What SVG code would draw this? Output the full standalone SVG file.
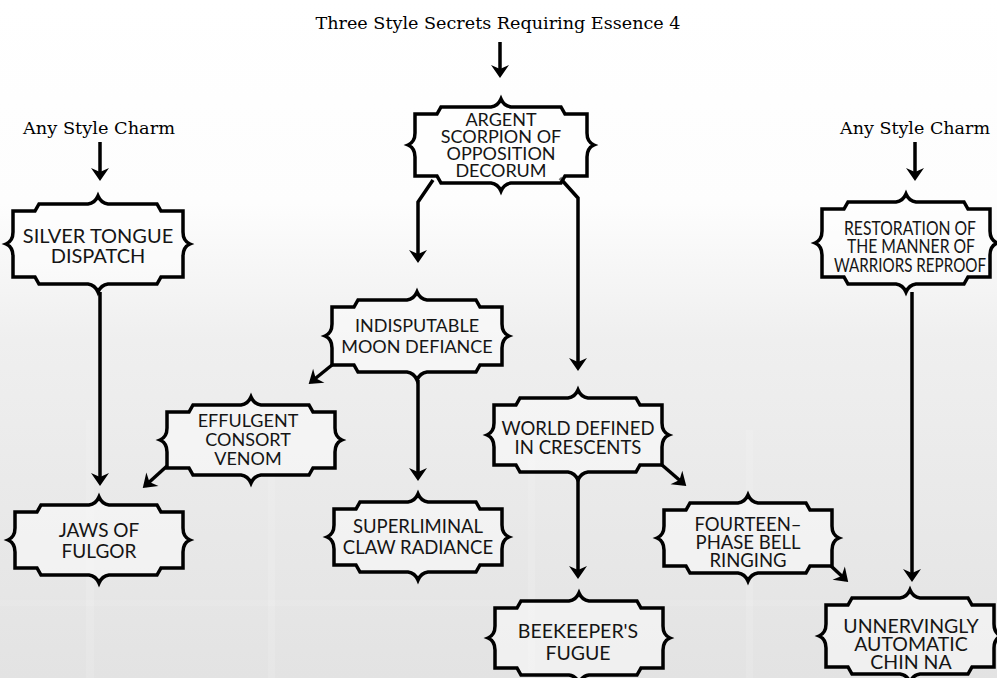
<svg xmlns="http://www.w3.org/2000/svg" xmlns:xlink="http://www.w3.org/1999/xlink" width="997" height="678" viewBox="0 0 997 678">
<defs>
<linearGradient id="bg" x1="0" y1="0" x2="0" y2="1">
<stop offset="0" stop-color="#ffffff"/>
<stop offset="0.3" stop-color="#fdfdfd"/>
<stop offset="0.5" stop-color="#efefef"/>
<stop offset="1" stop-color="#e3e3e3"/>
</linearGradient>
<marker id="ah" markerUnits="userSpaceOnUse" markerWidth="30" markerHeight="30" viewBox="-15 -15 30 30" refX="0" refY="0" orient="auto">
<path d="M3,0 L-10,-9 L-6,0 L-10,9 Z" fill="#000"/>
</marker>
<path id="sA" d="M-86,-31 L-64,-31 L-60,-38 L-10,-38 Q-3,-39 0,-46 Q3,-39 10,-38 L60,-38 L64,-31 L86,-31 L86,-12 Q86,-3 93,0 Q86,3 86,12 L86,31 L64,31 L60,38 L10,38 Q3,39 0,46 Q-3,39 -10,38 L-60,38 L-64,31 L-86,31 L-86,12 Q-86,3 -93,0 Q-86,-3 -86,-12 Z"/>
<path id="sS" d="M-85,-33 L-63,-33 L-59,-40 L-10,-40 Q-3,-41 0,-48 Q3,-41 10,-40 L59,-40 L63,-33 L85,-33 L85,-12 Q85,-3 92,0 Q85,3 85,12 L85,33 L63,33 L59,40 L10,40 Q3,41 0,48 Q-3,41 -10,40 L-59,40 L-63,33 L-85,33 L-85,12 Q-85,3 -92,0 Q-85,-3 -85,-12 Z"/>
<path id="sR" d="M-84,-34 L-62,-34 L-58,-41 L-10,-41 Q-3,-42 0,-49 Q3,-42 10,-41 L58,-41 L62,-34 L84,-34 L84,-12 Q84,-3 91,0 Q84,3 84,12 L84,34 L62,34 L58,41 L10,41 Q3,42 0,49 Q-3,42 -10,41 L-58,41 L-62,34 L-84,34 L-84,12 Q-84,3 -91,0 Q-84,-3 -84,-12 Z"/>
<path id="sI" d="M-85,-29 L-63,-29 L-59,-36 L-10,-36 Q-3,-37 0,-44 Q3,-37 10,-36 L59,-36 L63,-29 L85,-29 L85,-12 Q85,-3 92,0 Q85,3 85,12 L85,29 L63,29 L59,36 L10,36 Q3,37 0,44 Q-3,37 -10,36 L-59,36 L-63,29 L-85,29 L-85,12 Q-85,3 -92,0 Q-85,-3 -85,-12 Z"/>
<path id="s28" d="M-84,-28 L-62,-28 L-58,-35 L-10,-35 Q-3,-36 0,-43 Q3,-36 10,-35 L58,-35 L62,-28 L84,-28 L84,-12 Q84,-3 91,0 Q84,3 84,12 L84,28 L62,28 L58,35 L10,35 Q3,36 0,43 Q-3,36 -10,35 L-58,35 L-62,28 L-84,28 L-84,12 Q-84,3 -91,0 Q-84,-3 -84,-12 Z"/>
<path id="s30" d="M-84,-30 L-62,-30 L-58,-37 L-10,-37 Q-3,-38 0,-45 Q3,-38 10,-37 L58,-37 L62,-30 L84,-30 L84,-12 Q84,-3 91,0 Q84,3 84,12 L84,30 L62,30 L58,37 L10,37 Q3,38 0,45 Q-3,38 -10,37 L-58,37 L-62,30 L-84,30 L-84,12 Q-84,3 -91,0 Q-84,-3 -84,-12 Z"/>
<path id="s31" d="M-84,-31 L-62,-31 L-58,-38 L-10,-38 Q-3,-39 0,-46 Q3,-39 10,-38 L58,-38 L62,-31 L84,-31 L84,-12 Q84,-3 91,0 Q84,3 84,12 L84,31 L62,31 L58,38 L10,38 Q3,39 0,46 Q-3,39 -10,38 L-58,38 L-62,31 L-84,31 L-84,12 Q-84,3 -91,0 Q-84,-3 -84,-12 Z"/>
</defs>
<style>
.frame{fill:#ffffff;fill-opacity:0.45;stroke:#000;stroke-width:3.5;stroke-linejoin:miter}
.nt{font-family:Lato,"Open Sans",sans-serif;font-size:19px;fill:#151515;text-anchor:middle}
.lbl{font-family:"DejaVu Serif","Liberation Serif",serif;font-size:17px;fill:#000;text-anchor:middle}
.con{fill:none;stroke:#000;stroke-width:3.5;marker-end:url(#ah)}
.tex{fill:#ffffff;opacity:0.12}
</style>
<rect x="0" y="0" width="997" height="678" fill="url(#bg)"/>
<g id="texture">
<rect class="tex" x="86" y="420" width="8" height="258"/>
<rect class="tex" x="268" y="430" width="7" height="248"/>
<rect class="tex" x="528" y="440" width="7" height="238"/>
<rect class="tex" x="746" y="430" width="7" height="248"/>
<rect x="0" y="600" width="997" height="6" fill="#ffffff" opacity="0.1"/>
</g>
<g id="labels">
<text class="lbl" x="498" y="29" textLength="365" lengthAdjust="spacingAndGlyphs">Three Style Secrets Requiring Essence 4</text>
<text class="lbl" x="99" y="134" textLength="152" lengthAdjust="spacingAndGlyphs">Any Style Charm</text>
<text class="lbl" x="915" y="134" textLength="150" lengthAdjust="spacingAndGlyphs">Any Style Charm</text>
</g>
<g id="connectors">
<path class="con" d="M500,42 L500,75"/>
<path class="con" d="M100,142 L100,178"/>
<path class="con" d="M915,142 L915,178"/>
<path class="con" d="M433,180 L418,202 L418,260"/>
<path class="con" d="M560,178 L578,198 L578,368"/>
<path class="con" d="M100,292 L100,483"/>
<path class="con" d="M912,292 L912,579"/>
<path class="con" d="M332,365 L311,382"/>
<path class="con" d="M418,380 L418,478"/>
<path class="con" d="M167,466 L145,486"/>
<path class="con" d="M578,480 L578,576"/>
<path class="con" d="M662,465 L684,484"/>
<path class="con" d="M831,566 L846,580"/>
</g>
<g id="argent" transform="translate(501,145)">
<use href="#sA" class="frame"/>
<text class="nt" x="0" y="-19" style="font-size:18px">ARGENT</text>
<text class="nt" x="0" y="-2" style="font-size:18px">SCORPION OF</text>
<text class="nt" x="0" y="15" style="font-size:18px">OPPOSITION</text>
<text class="nt" x="0" y="32" style="font-size:18px">DECORUM</text>
</g>
<g id="silver" transform="translate(98,244)">
<use href="#sS" class="frame"/>
<text class="nt" x="0" y="-1" style="font-size:20px">SILVER TONGUE</text>
<text class="nt" x="0" y="19" style="font-size:20px">DISPATCH</text>
</g>
<g id="restoration" transform="translate(906,243)">
<use href="#sR" class="frame"/>
<text class="nt" x="4" y="-8" style="font-size:19px" textLength="132" lengthAdjust="spacingAndGlyphs">RESTORATION OF</text>
<text class="nt" x="5" y="10" style="font-size:19px" textLength="128" lengthAdjust="spacingAndGlyphs">THE MANNER OF</text>
<text class="nt" x="4" y="29" style="font-size:19px" textLength="152" lengthAdjust="spacingAndGlyphs">WARRIORS REPROOF</text>
</g>
<g id="indisputable" transform="translate(417,336)">
<use href="#sI" class="frame"/>
<text class="nt" x="0" y="-4" style="font-size:18px">INDISPUTABLE</text>
<text class="nt" x="0" y="17" style="font-size:18px">MOON DEFIANCE</text>
</g>
<g id="effulgent" transform="translate(251,440)">
<use href="#s28" class="frame"/>
<text class="nt" x="-3" y="-13" style="font-size:18px">EFFULGENT</text>
<text class="nt" x="-3" y="6" style="font-size:18px">CONSORT</text>
<text class="nt" x="-3" y="25" style="font-size:18px">VENOM</text>
</g>
<g id="world" transform="translate(578,435)">
<use href="#s30" class="frame"/>
<text class="nt" x="0" y="0" style="font-size:18.5px">WORLD DEFINED</text>
<text class="nt" x="0" y="19" style="font-size:18.5px">IN CRESCENTS</text>
</g>
<g id="jaws" transform="translate(99,540)">
<use href="#s28" class="frame"/>
<text class="nt" x="0" y="-3">JAWS OF</text>
<text class="nt" x="0" y="18">FULGOR</text>
</g>
<g id="superliminal" transform="translate(418,537)">
<use href="#s28" class="frame"/>
<text class="nt" x="0" y="-4" style="font-size:18.5px">SUPERLIMINAL</text>
<text class="nt" x="0" y="17" style="font-size:18.5px">CLAW RADIANCE</text>
</g>
<g id="fourteen" transform="translate(748,538)">
<use href="#s28" class="frame"/>
<text class="nt" x="0" y="-7" style="font-size:18.5px">FOURTEEN–</text>
<text class="nt" x="0" y="11" style="font-size:18.5px">PHASE BELL</text>
<text class="nt" x="0" y="29" style="font-size:18.5px">RINGING</text>
</g>
<g id="beekeeper" transform="translate(579,638)">
<use href="#s30" class="frame"/>
<text class="nt" x="-1" y="0" style="font-size:19.5px">BEEKEEPER'S</text>
<text class="nt" x="-1" y="22" style="font-size:19.5px">FUGUE</text>
</g>
<g id="unnervingly" transform="translate(910,636)">
<use href="#s31" class="frame"/>
<text class="nt" x="1" y="-3" style="font-size:19.5px">UNNERVINGLY</text>
<text class="nt" x="1" y="15" style="font-size:19.5px">AUTOMATIC</text>
<text class="nt" x="1" y="33" style="font-size:19.5px">CHIN NA</text>
</g>
</svg>
